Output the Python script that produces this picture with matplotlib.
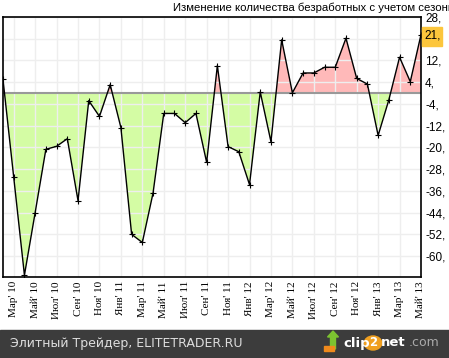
import numpy as np
import matplotlib
matplotlib.use("Agg")
from matplotlib import pyplot as plt
from matplotlib.patches import Rectangle, Circle, FancyArrow

# monthly values, Feb '10 .. May '13
months = ["Янв", "Фев", "Мар", "Апр", "Май", "Июн", "Июл", "Авг", "Сен", "Окт", "Ноя", "Дек"]
values = [5, -31, -67, -44, -20.7, -19.6, -16.8, -39.6, -2.8, -8.6,
          3.1, -12.7, -52, -55, -36.8, -7.5, -7.5, -10.9, -7.5, -25.5,
          10.1, -19.7, -21.6, -33.7, 0.4, -17.9, 19.6, 0.1, 7.4, 7.4,
          9.5, 9.5, 20.2, 5.4, 3.3, -15.6, -2.5, 13.2, 4.2, 21.5]
yticks = [28, 20, 12, 4, -4, -12, -20, -28, -36, -44, -52, -60]
last_label = "21,"
title = "Изменение количества безработных с учетом сезонности"
footer = "Элитный Трейдер, ELITETRADER.RU"

# labels: every other month from Mar '10
labels = []
for i in range(len(values)):
    m = (1 + i) % 12
    y = 10 + (1 + i) // 12
    labels.append(months[m] + "' %d" % y)
x = np.arange(len(values))
v = np.array(values)

W, H = 449, 358
fig = plt.figure(figsize=(W / 100, H / 100), dpi=100)
fig.patch.set_facecolor("white")
ax = fig.add_axes([3 / W, 81 / H, 418 / W, 260 / H])

ax.fill_between(x, v, 0, where=v <= 0, interpolate=True, color="#d4fca4", lw=0, zorder=1)
ax.fill_between(x, v, 0, where=v >= 0, interpolate=True, color="#ffb9b9", lw=0, zorder=1)
ax.axhline(0, color="#999999", lw=1.5, zorder=3)
ax.plot(x, v, color="black", lw=1, marker="+", ms=4, mew=0.8, zorder=4)

ax.set_xlim(0, len(values) - 1)
ax.set_ylim(-67.7, 28)
ax.set_yticks(yticks)
ax.set_xticks(x[1::2])
ax.set_xticklabels(labels[1::2], rotation=90, fontsize=8, family="Liberation Serif")
ax.grid(True, color="#eeeeee", lw=1, zorder=2)
ax.set_axisbelow(False)
ax.tick_params(length=0, pad=3)
ax.yaxis.tick_right()
ax.set_yticklabels([("%d," % t) if t != 20 else "" for t in yticks], fontsize=8.5,
                   family="Liberation Sans")
for s in ax.spines.values():
    s.set_color("black")
    s.set_linewidth(1.2)
    s.set_zorder(5)

# highlighted last value
fig.patches.append(Rectangle((422 / W, (358 - 46) / H), 20 / W, 19 / H,
                             transform=fig.transFigure, color="#fcc63c", zorder=5))
fig.text(424 / W, (358 - 36) / H, last_label, fontsize=8.5, family="Liberation Sans",
         va="center", ha="left", zorder=6)

fig.text(173 / W, (358 - 8) / H, title, fontsize=8.2, family="Liberation Sans",
         va="center", ha="left")

# footer band
fig.patches.append(Rectangle((0, 0), 1, 28 / H, transform=fig.transFigure,
                             color="#3c3c3c", zorder=1))
fig.text(10 / W, 14 / H, footer, fontsize=9, color="#dddddd",
         family="DejaVu Sans", va="center", ha="left", zorder=2)
fig.patches.append(FancyArrow(333 / W, 9 / H, 0, 12 / H, width=5 / W, head_width=11 / W,
                              head_length=6 / H, transform=fig.transFigure,
                              color="#7cc230", zorder=2))
fig.patches.append(Rectangle((324 / W, 7 / H), 10 / W, 5 / H, transform=fig.transFigure,
                             color="#f08a1c", zorder=2))
fig.text(343 / W, 15 / H, "clip", fontsize=9.5, color="white", weight="bold",
         family="DejaVu Sans", va="center", ha="left", zorder=3)
fig.patches.append(Circle((373 / W, 15 / H), 7 / H, transform=fig.transFigure,
                          color="#f0a020", zorder=2))
fig.text(373 / W, 15 / H, "2", fontsize=8.5, color="white", weight="bold",
         family="DejaVu Sans", va="center", ha="center", zorder=3)
fig.text(381 / W, 15 / H, "net", fontsize=9.5, color="white", weight="bold",
         family="DejaVu Sans", va="center", ha="left", zorder=3)
fig.text(409 / W, 15 / H, ".com", fontsize=9, color="#aaaaaa",
         family="DejaVu Sans", va="center", ha="left", zorder=3)

fig.savefig("out.png", dpi=100)
